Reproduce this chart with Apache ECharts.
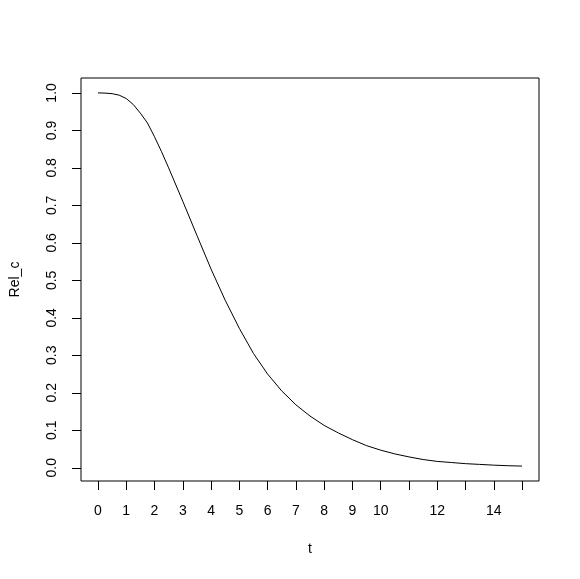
<!DOCTYPE html>
<html>
<head>
<meta charset="utf-8">
<script src="https://cdn.jsdelivr.net/npm/echarts@6/dist/echarts.min.js"></script>
<style>
html,body{margin:0;padding:0;background:#fff;}
#chart{width:580px;height:579px;}
</style>
</head>
<body>
<div id="chart"></div>
<script>
const tValues = [0,0.25,0.5,0.75,1,1.25,1.5,1.75,2,2.25,2.5,3,3.5,4,4.5,5,5.5,6,6.5,7,7.5,8,8.5,9,9.5,10,10.5,11,11.5,12,12.5,13,13.5,14,14.5,15];
const relValues = [1.000,0.9995,0.998,0.994,0.985,0.969,0.946,0.920,0.883,0.843,0.800,0.711,0.620,0.530,0.447,0.372,0.305,0.250,0.205,0.168,0.138,0.113,0.093,0.075,0.059,0.047,0.037,0.029,0.022,0.017,0.014,0.011,0.009,0.007,0.0055,0.0045];
const xTicks = [0,1,2,3,4,5,6,7,8,9,10,11,12,13,14,15];
const xLabels = [0,1,2,3,4,5,6,7,8,9,10,12,14];
const yTicks = [0,0.1,0.2,0.3,0.4,0.5,0.6,0.7,0.8,0.9,1.0];

const font = '"Liberation Sans", Arial, sans-serif';
const chart = echarts.init(document.getElementById('chart'));
chart.setOption({
  animation: false,
  backgroundColor: '#ffffff',
  grid: {left: 78, right: 41, top: 78, bottom: 98, show: true, borderColor: '#000', borderWidth: 1, backgroundColor: 'transparent'},
  xAxis: {
    type: 'value', min: -0.6, max: 15.6,
    name: 't', nameLocation: 'middle', nameGap: 61,
    nameTextStyle: {color: '#000', fontSize: 14, fontFamily: font},
    axisLine: {show: false, onZero: false},
    splitLine: {show: false},
    axisTick: {show: true, length: 9, inside: false, lineStyle: {color: '#000'}, customValues: xTicks},
    axisLabel: {show: true, color: '#000', fontSize: 14, fontFamily: font, margin: 23, customValues: xLabels}
  },
  yAxis: {
    type: 'value', min: -0.0353, max: 1.0398,
    name: 'Rel_c', nameLocation: 'middle', nameGap: 59, nameRotate: 90,
    nameTextStyle: {color: '#000', fontSize: 14, fontFamily: font},
    axisLine: {show: false, onZero: false},
    splitLine: {show: false},
    axisTick: {show: true, length: 9, inside: false, lineStyle: {color: '#000'}, customValues: yTicks},
    axisLabel: {show: true, color: '#000', fontSize: 14, fontFamily: font, margin: 22, rotate: 90,
      customValues: yTicks, formatter: v => v.toFixed(1)}
  },
  series: [{
    type: 'line',
    data: tValues.map((t, i) => [t, relValues[i]]),
    showSymbol: false,
    smooth: false,
    lineStyle: {color: '#000', width: 1}
  }]
});
</script>
</body>
</html>
